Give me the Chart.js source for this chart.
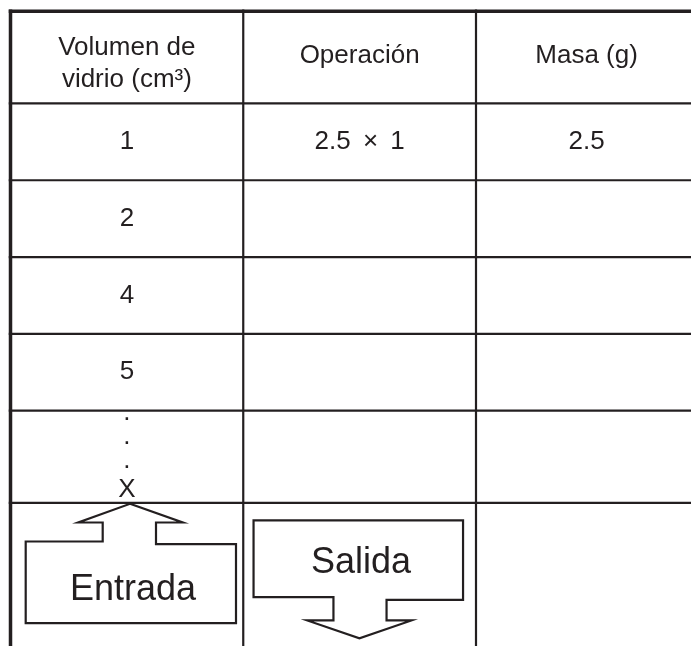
<!DOCTYPE html>
<html><head><meta charset="utf-8">
<script src="https://cdn.jsdelivr.net/npm/chart.js@4/dist/chart.umd.min.js"></script>
<style>html,body{margin:0;padding:0;background:#fff}#wrap{width:691px;height:646px;position:relative}</style>
</head><body><div id="wrap"><canvas id="c"></canvas></div>
<script>
// ---- data ----
const headerLines = [["Volumen de", "vidrio (cm³)"], ["Operación"], ["Masa (g)"]];
const volumes = ["1", "2", "4", "5"];
const operations = ["2.5 × 1", "", "", ""];
const masses = ["2.5", "", "", ""];
const ellipsis = [".", ".", "."];
const lastVolume = "X";
const inputLabel = "Entrada";
const outputLabel = "Salida";

// ---- layout (table units on the chart scales) ----
const colEdges = [0, 1, 2, 2.95];
const rowEdges = [0, 1.2, 2.2, 3.2, 4.2, 5.2, 6.4];
const INK = '#231f20';

const tablePlugin = {
  id: 'table',
  beforeDraw(chart) {
    const c = chart.ctx;
    c.save(); c.fillStyle = '#fff'; c.fillRect(0, 0, chart.width, chart.height); c.restore();
  },
  afterDraw(chart) {
    const c = chart.ctx;
    const xs = chart.scales.x, ys = chart.scales.y;
    const X = v => xs.getPixelForValue(v), Y = v => ys.getPixelForValue(v);
    const W = chart.width, H = chart.height;
    c.save();
    c.strokeStyle = INK; c.fillStyle = INK; c.lineCap = 'butt';
    // horizontal rules
    rowEdges.forEach((r, i) => {
      c.lineWidth = i === 0 ? 3.5 : 2.2;
      c.beginPath(); c.moveTo(X(0) - 1.75, Y(r)); c.lineTo(W, Y(r)); c.stroke();
    });
    // vertical rules
    [0, 1, 2].forEach(k => {
      c.lineWidth = k === 0 ? 3.5 : 2.2;
      c.beginPath(); c.moveTo(X(colEdges[k]), Y(0) - 1.75); c.lineTo(X(colEdges[k]), H); c.stroke();
    });
    const cx = k => (X(colEdges[k]) + X(colEdges[k + 1])) / 2;
    c.textAlign = 'center'; c.textBaseline = 'alphabetic';
    c.font = '26px "Liberation Sans", Arial, sans-serif';
    // header
    const top = Y(rowEdges[0]);
    headerLines.forEach((lines, k) => {
      if (lines.length === 2) {
        c.fillText(lines[0], cx(k), top + 43.2);
        c.fillText(lines[1], cx(k), top + 76);
      } else {
        c.fillText(lines[0], cx(k), top + 51.7);
      }
    });
    // data rows
    volumes.forEach((v, i) => {
      const yc = (Y(rowEdges[i + 1]) + Y(rowEdges[i + 2])) / 2 + 7.2;
      c.fillText(v, cx(0), yc);
      if (operations[i]) {
        if ('wordSpacing' in c) c.wordSpacing = '5px';
        c.fillText(operations[i], cx(1), yc);
        if ('wordSpacing' in c) c.wordSpacing = '0px';
      }
      if (masses[i]) c.fillText(masses[i], cx(2), yc);
    });
    // ellipsis row
    const rt = Y(rowEdges[5]);
    const dotOffs = [9.3, 33.3, 57.6];
    ellipsis.forEach((d, i) => c.fillText(d, cx(0), rt + dotOffs[i]));
    c.fillText(lastVolume, cx(0), rt + 86);
    // arrows row
    const at = Y(rowEdges[6]);
    c.lineWidth = 2.2; c.lineJoin = 'miter';
    const poly = (ox, pts) => {
      c.beginPath();
      pts.forEach((p, i) => i ? c.lineTo(ox + p[0], at + p[1]) : c.moveTo(ox + p[0], at + p[1]));
      c.closePath(); c.stroke();
    };
    const x0 = X(colEdges[0]);
    poly(x0, [[119.5, 1], [172.2, 19.7], [145.5, 19.7], [145.5, 41.3], [225.5, 41.3], [225.5, 120.3],
              [15.2, 120.3], [15.2, 38.7], [92.2, 38.7], [92.2, 19.7], [67.8, 19.7]]);
    const x1 = X(colEdges[1]);
    poly(x1, [[10.3, 17.6], [219.8, 17.6], [219.8, 97.1], [143.3, 97.1], [143.3, 117.6], [168.2, 117.6],
              [116.2, 135.4], [64, 117.6], [90.2, 117.6], [90.2, 94.4], [10.3, 94.4]]);
    c.font = '36px "Liberation Sans", Arial, sans-serif';
    c.fillText(inputLabel, x0 + 122.5, at + 97);
    c.fillText(outputLabel, x1 + 117.8, at + 70.4);
    c.restore();
  }
};

new Chart(document.getElementById('c'), {
  type: 'scatter',
  data: { datasets: [{ data: [], pointRadius: 0 }] },
  options: {
    responsive: true, maintainAspectRatio: false, animation: false,
    layout: { padding: 0 },
    plugins: { legend: { display: false }, tooltip: { enabled: false } },
    scales: {
      x: { type: 'linear', display: false, min: -10.5 / 232.75, max: (691 - 10.5) / 232.75 },
      y: { type: 'linear', display: false, reverse: true, min: -11.3 / 76.8, max: (646 - 11.3) / 76.8 }
    }
  },
  plugins: [tablePlugin]
});
</script>
</body></html>
